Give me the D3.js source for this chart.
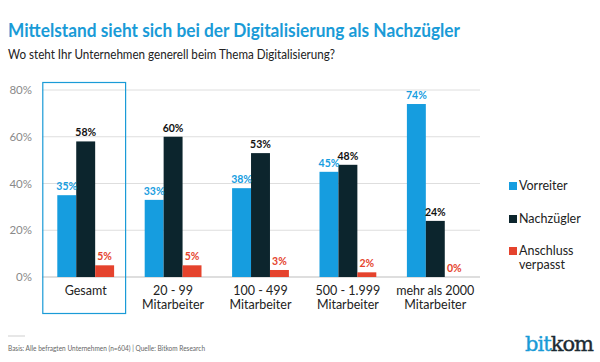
<!DOCTYPE html>
<html lang="de">
<head>
<meta charset="UTF-8">
<title>Digitalisierung</title>
<script src="https://d3js.org/d3.v7.min.js"></script>
<style>
  body { margin: 0; background: #fff; }
  svg text { font-family: Lato, "Open Sans", sans-serif; }
</style>
</head>
<body>
<svg id="chart" width="600" height="362"></svg>
<script>
// data
let categories = ["Gesamt", "20 - 99|Mitarbeiter", "100 - 499|Mitarbeiter", "500 - 1.999|Mitarbeiter", "mehr als 2000|Mitarbeiter"];
let seriesNames = ["Vorreiter", "Nachzügler", "Anschluss|verpasst"];
let vorreiter = [35, 33, 38, 45, 74];
let nachzuegler = [58, 60, 53, 48, 24];
let anschluss = [5, 5, 3, 2, 0];
let yTicks = [0, 20, 40, 60, 80];

let colors = ["#169ddf", "#0c252d", "#e5432d"];
let series = [vorreiter, nachzuegler, anschluss];

let svg = d3.select("#chart");

// titles
svg.append("text").attr("x", 8).attr("y", 37)
    .attr("fill", "#1a9bd7").attr("font-size", 19.5).attr("font-weight", "bold")
    .attr("textLength", 452).attr("lengthAdjust", "spacingAndGlyphs")
    .text("Mittelstand sieht sich bei der Digitalisierung als Nachzügler");
svg.append("text").attr("x", 8).attr("y", 59)
    .attr("fill", "#222").attr("font-size", 12.5)
    .attr("textLength", 327).attr("lengthAdjust", "spacingAndGlyphs")
    .text("Wo steht Ihr Unternehmen generell beim Thema Digitalisierung?");

// scales
let x0 = d3.scaleBand().domain(categories).range([42, 479]).paddingInner(0.35).paddingOuter(0.175);
let x1 = d3.scaleBand().domain([0, 1, 2]).range([0, x0.bandwidth()]);
let y = d3.scaleLinear().domain([0, 80]).range([277, 90]);

// grid
svg.append("g").selectAll("line").data(yTicks).join("line")
    .attr("x1", 42).attr("x2", 480)
    .attr("y1", d => y(d)).attr("y2", d => y(d))
    .attr("stroke", d => d === 0 ? "#bdbdbd" : "#dedede").attr("stroke-width", 1);

svg.append("g").selectAll("text").data(yTicks).join("text")
    .attr("x", 32).attr("y", d => y(d) + 4)
    .attr("text-anchor", "end").attr("fill", "#8a8a8a").attr("font-size", 11.5)
    .text(d => d + "%");

// highlight box around Gesamt
svg.append("rect")
    .attr("x", x0(categories[0]) - 14.5).attr("y", 82.5)
    .attr("width", x0.bandwidth() + 26).attr("height", 231)
    .attr("fill", "none").attr("stroke", "#1a9bd7").attr("stroke-width", 1.2);

// bars
let groups = svg.append("g").selectAll("g").data(categories).join("g")
    .attr("transform", d => `translate(${x0(d)},0)`);

groups.selectAll("rect").data((d, i) => series.map((s, k) => ({k: k, v: s[i]}))).join("rect")
    .attr("x", d => x1(d.k)).attr("width", x1.bandwidth())
    .attr("y", d => y(d.v)).attr("height", d => y(0) - y(d.v))
    .attr("fill", d => colors[d.k]);

groups.selectAll("text.val").data((d, i) => series.map((s, k) => ({k: k, v: s[i]}))).join("text")
    .attr("class", "val")
    .attr("x", d => x1(d.k) + x1.bandwidth() / 2).attr("y", d => y(d.v) - 5)
    .attr("text-anchor", "middle").attr("font-size", 10.5).attr("font-weight", "bold")
    .attr("fill", d => d.k === 1 ? "#111" : colors[d.k])
    .text(d => d.v + "%");

// category labels
let cat = svg.append("g").selectAll("text").data(categories).join("text")
    .attr("x", d => x0(d) + x0.bandwidth() / 2).attr("y", 295)
    .attr("text-anchor", "middle").attr("fill", "#222").attr("font-size", 12.5);
cat.selectAll("tspan").data(d => d.split("|")).join("tspan")
    .attr("x", function () { return d3.select(this.parentNode).attr("x"); })
    .attr("dy", (d, i) => i === 0 ? 0 : 14)
    .text(d => d);

// legend
let legY = [190, 223, 255];
let leg = svg.append("g").selectAll("g").data(seriesNames).join("g")
    .attr("transform", (d, i) => `translate(509,${legY[i]})`);
leg.append("rect").attr("x", 0).attr("y", -8).attr("width", 8).attr("height", 8)
    .attr("fill", (d, i) => colors[i]);
leg.append("text").attr("x", 10).attr("y", 0)
    .attr("fill", "#222").attr("font-size", 12.5)
    .selectAll("tspan").data(d => d.split("|")).join("tspan")
    .attr("x", 10).attr("dy", (d, i) => i === 0 ? 0 : 14).text(d => d);

// footer
svg.append("line").attr("x1", 8).attr("x2", 25).attr("y1", 336).attr("y2", 336)
    .attr("stroke", "#cfcfcf");
svg.append("text").attr("x", 8).attr("y", 351)
    .attr("fill", "#666").attr("font-size", 7.5)
    .attr("textLength", 197).attr("lengthAdjust", "spacingAndGlyphs")
    .text("Basis: Alle befragten Unternehmen (n=604) | Quelle: Bitkom Research");

// logo
let logo = svg.append("text").attr("x", 593).attr("y", 351).attr("text-anchor", "end")
    .attr("font-size", 21).attr("stroke-width", 0.4).attr("letter-spacing", -1)
    .style("font-family", "'DejaVu Serif', serif");
logo.append("tspan").attr("fill", "#1a9bd7").attr("stroke", "#1a9bd7").text("bit");
logo.append("tspan").attr("fill", "#1d2b33").attr("stroke", "#1d2b33").text("kom");
</script>
</body>
</html>
